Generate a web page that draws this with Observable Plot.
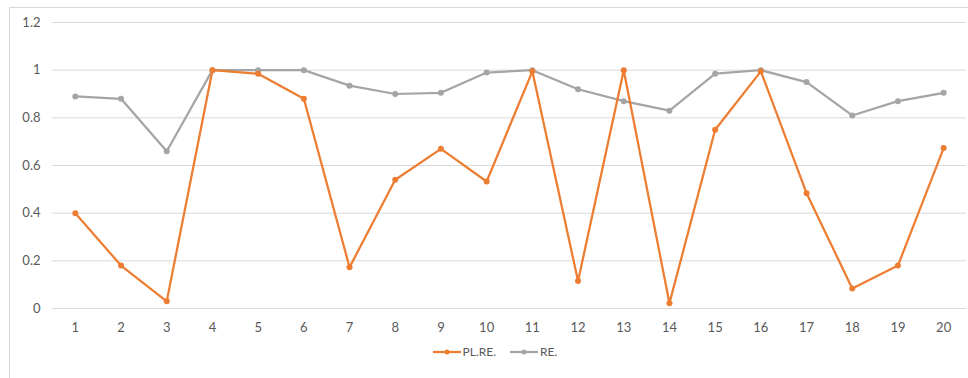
<!DOCTYPE html>
<html>
<head>
<meta charset="utf-8">
<script src="https://cdn.jsdelivr.net/npm/d3@7"></script>
<script src="https://cdn.jsdelivr.net/npm/@observablehq/plot@0.6"></script>
<style>
  html, body { margin: 0; padding: 0; background: #fff; overflow: hidden; }
  body { width: 968px; height: 378px; position: relative; font-family: Lato, "Open Sans", sans-serif; }
  #frame { position: absolute; left: 9px; top: 7px; width: 975px; height: 390px; border: 1px solid #d9d9d9; box-sizing: border-box; }
  #chart { position: absolute; left: 0; top: 0; }
  #legend { position: absolute; left: 0; top: 344px; width: 968px; display: flex; justify-content: center; gap: 14px; font-size: 12px; color: #595959; padding-left: 22px; box-sizing: border-box; }
  .item { display: flex; align-items: center; gap: 2px; }
  .item svg { display: block; }
</style>
</head>
<body>
<div id="frame"></div>
<div id="chart"></div>
<div id="legend"></div>
<script>
// Categories along the x axis
const categories = ["1","2","3","4","5","6","7","8","9","10","11","12","13","14","15","16","17","18","19","20"];
// PL.RE. series
const plre = [0.40, 0.18, 0.03, 1.00, 0.985, 0.88, 0.173, 0.54, 0.67, 0.533, 0.995, 0.115, 1.00, 0.022, 0.75, 0.995, 0.484, 0.084, 0.18, 0.673];
// RE. series
const re = [0.89, 0.88, 0.66, 1.00, 1.00, 1.00, 0.935, 0.90, 0.905, 0.99, 1.00, 0.92, 0.87, 0.83, 0.985, 1.00, 0.95, 0.81, 0.87, 0.905];
// y-axis ticks
const yTicks = [0, 0.2, 0.4, 0.6, 0.8, 1, 1.2];

const seriesNames = ["PL.RE.", "RE."];
const seriesColors = ["#ED7D31", "#A5A5A5"];

const rows = [
  ...categories.map((c, i) => ({cat: c, value: plre[i], series: "PL.RE."})),
  ...categories.map((c, i) => ({cat: c, value: re[i], series: "RE."}))
];

const chart = Plot.plot({
  width: 968,
  height: 340,
  marginTop: 22,
  marginBottom: 32,
  marginLeft: 52,
  marginRight: 2,
  style: {fontFamily: "Lato, 'Open Sans', sans-serif", fontSize: "13px", color: "#595959", background: "transparent"},
  x: {type: "point", domain: categories, padding: 0.5, round: false, label: null},
  y: {domain: [0, 1.2], label: null},
  color: {domain: seriesNames, range: seriesColors},
  marks: [
    Plot.gridY(yTicks, {stroke: "#d9d9d9", strokeOpacity: 1, strokeWidth: 1}),
    Plot.axisY(yTicks, {tickSize: 0, tickPadding: 12, tickFormat: d => String(+d.toFixed(1)), fill: "#595959"}),
    Plot.axisX({tickSize: 0, tickPadding: 14, fill: "#595959"}),
    Plot.line(rows.filter(d => d.series === "RE."), {x: "cat", y: "value", stroke: "series", strokeWidth: 2.25}),
    Plot.dot(rows.filter(d => d.series === "RE."), {x: "cat", y: "value", fill: "series", r: 3}),
    Plot.line(rows.filter(d => d.series === "PL.RE."), {x: "cat", y: "value", stroke: "series", strokeWidth: 2.25}),
    Plot.dot(rows.filter(d => d.series === "PL.RE."), {x: "cat", y: "value", fill: "series", r: 3})
  ]
});
document.getElementById("chart").appendChild(chart);

// Legend: line-with-marker swatches followed by series names
const legend = document.getElementById("legend");
seriesNames.forEach((name, i) => {
  const item = document.createElement("div");
  item.className = "item";
  item.innerHTML = `<svg width="28" height="10"><line x1="0" y1="5" x2="28" y2="5" stroke="${seriesColors[i]}" stroke-width="2.25"/><circle cx="14" cy="5" r="2.5" fill="${seriesColors[i]}"/></svg><span>${name}</span>`;
  legend.appendChild(item);
});
</script>
</body>
</html>
